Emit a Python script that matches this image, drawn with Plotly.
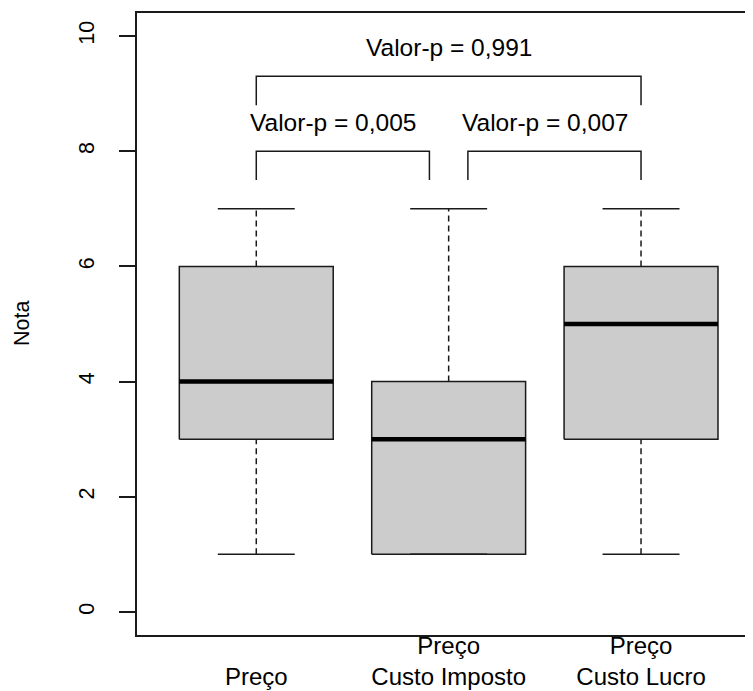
import plotly.graph_objects as go

# ---- data ----
categories = ["Preço", "Preço\nCusto Imposto", "Preço\nCusto Lucro"]
lower_whisker = [1, 1, 1]
q1 = [3, 1, 3]
median = [4, 3, 5]
q3 = [6, 4, 6]
upper_whisker = [7, 7, 7]

# comparisons: (group a, group b, p-value label)
comp_pairs = [(1, 2), (2, 3), (1, 3)]
comp_pvalues = ["0,005", "0,007", "0,991"]
bracket_low = [7.5, 7.5, 8.8]
bracket_high = [8.0, 8.0, 9.3]
bracket_inset_left = [0.0, 0.1, 0.0]
bracket_inset_right = [0.1, 0.0, 0.0]
label_x = [1.4, 2.5, 2.0]
label_y = [8.5, 8.5, 9.8]

y_ticks = [0, 2, 4, 6, 8, 10]

FONT = "Liberation Sans, Arial, sans-serif"
LINE = "#1a1a1a"
BOXW = 0.8
CAPW = 0.4

fig = go.Figure()

for i in range(len(categories)):
    c = i + 1
    # box
    fig.add_trace(go.Scatter(
        x=[c - BOXW / 2, c + BOXW / 2, c + BOXW / 2, c - BOXW / 2, c - BOXW / 2],
        y=[q1[i], q1[i], q3[i], q3[i], q1[i]],
        mode="lines", fill="toself", fillcolor="#CCCCCC",
        line=dict(color=LINE, width=1.5), hoverinfo="skip", showlegend=False))
    # median
    fig.add_trace(go.Scatter(
        x=[c - BOXW / 2, c + BOXW / 2], y=[median[i], median[i]],
        mode="lines", line=dict(color="#000000", width=4.5),
        hoverinfo="skip", showlegend=False))
    # whiskers (dashed)
    for a, b in [(q3[i], upper_whisker[i]), (lower_whisker[i], q1[i])]:
        if a != b:
            fig.add_trace(go.Scatter(
                x=[c, c], y=[a, b], mode="lines",
                line=dict(color=LINE, width=1.5, dash="6px,4px"),
                hoverinfo="skip", showlegend=False))
    # caps
    for v in [upper_whisker[i], lower_whisker[i]]:
        fig.add_trace(go.Scatter(
            x=[c - CAPW / 2, c + CAPW / 2], y=[v, v], mode="lines",
            line=dict(color=LINE, width=1.5),
            hoverinfo="skip", showlegend=False))

# brackets
for k, (a, b) in enumerate(comp_pairs):
    xa = a + bracket_inset_left[k]
    xb = b - bracket_inset_right[k]
    fig.add_trace(go.Scatter(
        x=[xa, xa, xb, xb],
        y=[bracket_low[k], bracket_high[k], bracket_high[k], bracket_low[k]],
        mode="lines", line=dict(color=LINE, width=1.5),
        hoverinfo="skip", showlegend=False))
    fig.add_annotation(x=label_x[k], y=label_y[k], xref="x", yref="y",
                       text="Valor-p = " + comp_pvalues[k], showarrow=False,
                       font=dict(family=FONT, size=24.5, color="#000000"))

ticktext = []
for cat in categories:
    lines = cat.split("\n")
    if len(lines) == 1:
        ticktext.append("<br>" + lines[0])
    else:
        ticktext.append("<br>".join(lines))

fig.update_xaxes(
    range=[0.38, 3.582], tickvals=[1, 2, 3], ticktext=ticktext,
    showline=True, linecolor=LINE, linewidth=1.5, mirror=True,
    showgrid=False, zeroline=False, ticks="", automargin=False,
    ticklabelstandoff=-12,
    tickfont=dict(family=FONT, size=24, color="#000000"))
fig.update_yaxes(
    range=[-0.4, 10.4], tickvals=y_ticks, ticktext=[str(t) for t in y_ticks],
    tickangle=-90, ticks="outside", ticklen=16, tickwidth=1.5, tickcolor=LINE,
    showline=True, linecolor=LINE, linewidth=1.5, mirror=False,
    showgrid=False, zeroline=False, automargin=False,
    ticklabelstandoff=17,
    tickfont=dict(family=FONT, size=21.5, color="#000000"))

fig.add_annotation(x=(22 - 137) / 616, y=0.5, xref="paper", yref="paper",
                   text="Nota", textangle=-90, showarrow=False,
                   xanchor="center", yanchor="middle",
                   font=dict(family=FONT, size=21.5, color="#000000"))

# page body has an 8px default margin: shift the figure to compensate
fig.update_layout(
    width=745, height=683,
    margin=dict(l=129, r=0, t=5, b=56, autoexpand=False),
    plot_bgcolor="white", paper_bgcolor="white",
    showlegend=False)

fig.write_html("out.html")
